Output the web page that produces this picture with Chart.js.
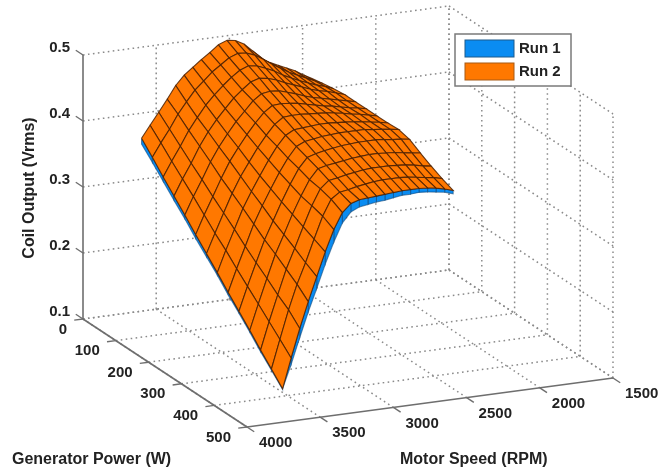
<!DOCTYPE html>
<html>
<head>
<meta charset="utf-8">
<title>Coil Output</title>
<script src="https://cdn.jsdelivr.net/npm/chart.js@4"></script>
<style>
html, body { margin: 0; padding: 0; background: #fff; }
canvas { display: block; filter: blur(0.55px); }
</style>
</head>
<body>
<canvas id="graph-coil" width="671" height="472"></canvas>
<script>
// tick labels
var speedTicks = [4000, 3500, 3000, 2500, 2000, 1500];
var powerTicks = [0, 100, 200, 300, 400, 500];
var coilTicks = [0.1, 0.2, 0.3, 0.4, 0.5];

// surface grid
var motorSpeed = [3600, 3542, 3483, 3425, 3367, 3309, 3250, 3192, 3134, 3076, 3017, 2959, 2901, 2843, 2784, 2726, 2668, 2610, 2552, 2493, 2435];
var generatorPower = [0, 33, 66, 99, 132, 165, 198, 231, 264, 297, 330, 363, 396, 430];

// Run 2: one row per generatorPower, one column per motorSpeed
var run2 = [
    [.362, .380, .398, .416, .435, .449, .459, .469, .478, .488, .493, .491, .484, .472, .459, .451, .445, .439, .433, .425, .418],
    [.344, .364, .383, .404, .421, .437, .449, .461, .470, .479, .484, .483, .478, .470, .461, .453, .445, .439, .433, .427, .421],
    [.325, .347, .368, .390, .408, .425, .439, .451, .462, .471, .476, .474, .469, .463, .455, .449, .443, .438, .433, .429, .424],
    [.307, .331, .353, .377, .397, .414, .429, .443, .454, .464, .468, .466, .462, .456, .451, .446, .441, .437, .434, .430, .426],
    [.289, .315, .339, .364, .385, .403, .420, .434, .448, .457, .459, .458, .454, .450, .445, .441, .438, .435, .432, .429, .426],
    [.270, .298, .324, .350, .374, .393, .411, .427, .441, .450, .451, .450, .448, .445, .442, .439, .437, .434, .431, .429, .426],
    [.252, .281, .310, .338, .362, .382, .402, .419, .434, .443, .444, .444, .443, .442, .441, .439, .437, .434, .432, .429, .426],
    [.234, .266, .296, .326, .350, .372, .394, .413, .428, .435, .436, .437, .438, .438, .437, .436, .435, .433, .431, .429, .426],
    [.215, .249, .281, .313, .339, .363, .386, .406, .422, .428, .430, .432, .433, .434, .434, .434, .434, .432, .431, .429, .427],
    [.197, .233, .267, .300, .327, .354, .379, .401, .416, .420, .423, .425, .427, .428, .429, .429, .429, .428, .426, .425, .423],
    [.179, .217, .254, .289, .317, .346, .372, .395, .410, .413, .415, .417, .419, .420, .421, .421, .420, .419, .417, .415, .413],
    [.160, .201, .240, .277, .307, .338, .368, .392, .403, .405, .408, .410, .412, .413, .413, .413, .412, .411, .409, .406, .404],
    [.142, .185, .228, .265, .296, .330, .363, .387, .396, .398, .401, .403, .405, .406, .406, .406, .405, .403, .401, .399, .396],
    [.123, .168, .211, .250, .286, .322, .354, .378, .390, .394, .395, .396, .397, .398, .399, .399, .399, .398, .396, .393, .389]
];

// Run 1 only shows below Run 2 along these two edges
var run1Front = [.353, .336, .318, .300, .283, .264, .247, .230, .211, .194, .176, .157, .140, .122];
var run1Edge = [.123, .158, .197, .234, .268, .303, .335, .362, .377, .383, .385, .387, .388, .390, .392, .392, .393, .392, .390, .388, .384];

var run1Color = "#0a8cf2";
var run2Color = "#ff7800";
var gridColor = "#8a8a8a";
var axisColor = "#6e6e6e";
var textColor = "#222";

// orthographic view of the box, in canvas pixels
function project(speed, power, coil) {
    return {
        x: 83 + power * 0.328 + (4000 - speed) * 0.1464,
        y: 319 + power * 0.216 - (4000 - speed) * 0.0196 - (coil - 0.1) * 660
    };
}

function lineSet(a, b, color, width, dash) {
    return {
        data: [project(a[0], a[1], a[2]), project(b[0], b[1], b[2])],
        showLine: true, fill: false, pointRadius: 0,
        borderColor: color, borderWidth: width, borderDash: dash || []
    };
}

function quadSet(points, fillColor, lineColor) {
    return {
        data: points.concat([points[0]]),
        showLine: true, fill: "shape", pointRadius: 0,
        backgroundColor: fillColor, borderColor: lineColor, borderWidth: 1.1
    };
}

var sets = [];   // in painting order, back to front
var dots = [1.6, 3.4];
var i, j;

// dotted box grid
for (i = 0; i < speedTicks.length; i++) {
    if (i > 0) {
        sets.push(lineSet([speedTicks[i], 0, 0.1], [speedTicks[i], 0, 0.5], gridColor, 1.5, dots));
    }
    sets.push(lineSet([speedTicks[i], 0, 0.1], [speedTicks[i], 500, 0.1], gridColor, 1.5, dots));
}
for (i = 0; i < powerTicks.length; i++) {
    sets.push(lineSet([1500, powerTicks[i], 0.1], [1500, powerTicks[i], 0.5], gridColor, 1.5, dots));
    if (i < powerTicks.length - 1) {
        sets.push(lineSet([4000, powerTicks[i], 0.1], [1500, powerTicks[i], 0.1], gridColor, 1.5, dots));
    }
}
for (i = 0; i < coilTicks.length; i++) {
    sets.push(lineSet([4000, 0, coilTicks[i]], [1500, 0, coilTicks[i]], gridColor, 1.5, dots));
    sets.push(lineSet([1500, 0, coilTicks[i]], [1500, 500, coilTicks[i]], gridColor, 1.5, dots));
}

// solid axes and their ticks
sets.push(lineSet([4000, 0, 0.1], [4000, 0, 0.5], axisColor, 1.6));
sets.push(lineSet([4000, 0, 0.1], [4000, 500, 0.1], axisColor, 1.6));
sets.push(lineSet([4000, 500, 0.1], [1500, 500, 0.1], axisColor, 1.6));
for (i = 0; i < coilTicks.length; i++) {
    sets.push(lineSet([4000, 0, coilTicks[i]], [4000, -22, coilTicks[i]], axisColor, 1.4));
}
for (i = 0; i < powerTicks.length; i++) {
    sets.push(lineSet([4000, powerTicks[i], 0.1], [4060, powerTicks[i], 0.1], axisColor, 1.4));
}
for (i = 0; i < speedTicks.length; i++) {
    sets.push(lineSet([speedTicks[i], 500, 0.1], [speedTicks[i], 522, 0.1], axisColor, 1.4));
}

// Run 1 edges
var lastP = generatorPower.length - 1;
var lastS = motorSpeed.length - 1;
for (i = 0; i < lastP; i++) {
    sets.push(quadSet([
        project(motorSpeed[0], generatorPower[i], run2[i][0]),
        project(motorSpeed[0], generatorPower[i + 1], run2[i + 1][0]),
        project(motorSpeed[0], generatorPower[i + 1], run1Front[i + 1]),
        project(motorSpeed[0], generatorPower[i], run1Front[i])
    ], run1Color, "rgba(15,70,120,0.6)"));
}
for (j = lastS - 1; j >= 0; j--) {
    sets.push(quadSet([
        project(motorSpeed[j], generatorPower[lastP], run2[lastP][j]),
        project(motorSpeed[j + 1], generatorPower[lastP], run2[lastP][j + 1]),
        project(motorSpeed[j + 1], generatorPower[lastP], run1Edge[j + 1]),
        project(motorSpeed[j], generatorPower[lastP], run1Edge[j])
    ], run1Color, "rgba(15,70,120,0.6)"));
}

// Run 2 surface, far cells first
for (i = 0; i < lastP; i++) {
    for (j = lastS - 1; j >= 0; j--) {
        sets.push(quadSet([
            project(motorSpeed[j], generatorPower[i], run2[i][j]),
            project(motorSpeed[j + 1], generatorPower[i], run2[i][j + 1]),
            project(motorSpeed[j + 1], generatorPower[i + 1], run2[i + 1][j + 1]),
            project(motorSpeed[j], generatorPower[i + 1], run2[i + 1][j])
        ], run2Color, "rgba(75,32,0,0.85)"));
    }
}

// Chart.js paints the last dataset first
sets.reverse();

function drawText(ctx, text, x, y, align) {
    ctx.textAlign = align;
    ctx.fillText(text, x, y);
}

var labelPlugin = {
    id: "labelPlugin",
    afterDraw: function (chart) {
        var ctx = chart.ctx;
        var xs = chart.scales.x, ys = chart.scales.y;
        var i, pt;

        function at(speed, power, coil) {
            pt = project(speed, power, coil);
            return { x: xs.getPixelForValue(pt.x), y: ys.getPixelForValue(pt.y) };
        }

        ctx.save();
        ctx.fillStyle = textColor;
        ctx.textBaseline = "middle";
        ctx.font = "bold 15px 'Liberation Sans', Arial, sans-serif";

        for (i = 0; i < coilTicks.length; i++) {
            pt = at(4000, 0, coilTicks[i]);
            drawText(ctx, coilTicks[i].toFixed(1), pt.x - 13, pt.y - 7, "right");
        }
        for (i = 0; i < powerTicks.length; i++) {
            pt = at(4000, powerTicks[i], 0.1);
            drawText(ctx, String(powerTicks[i]), pt.x - 16, pt.y + 10.5, "right");
        }
        for (i = 0; i < speedTicks.length; i++) {
            pt = at(speedTicks[i], 500, 0.1);
            drawText(ctx, String(speedTicks[i]), pt.x + 12, pt.y + 16, "left");
        }

        ctx.font = "bold 16px 'Liberation Sans', Arial, sans-serif";
        drawText(ctx, "Generator Power (W)", 12, 460, "left");
        drawText(ctx, "Motor Speed (RPM)", 400, 460, "left");
        ctx.save();
        ctx.translate(30, 188);
        ctx.rotate(-Math.PI / 2);
        drawText(ctx, "Coil Output (Vrms)", 0, 0, "center");
        ctx.restore();

        // legend
        ctx.fillStyle = "#fff";
        ctx.strokeStyle = "#7a7a7a";
        ctx.lineWidth = 1.5;
        ctx.fillRect(455, 34, 116, 52);
        ctx.strokeRect(455, 34, 116, 52);
        ctx.lineWidth = 1;
        ctx.fillStyle = run1Color;
        ctx.strokeStyle = "#1c5a8c";
        ctx.fillRect(465, 40, 49, 17);
        ctx.strokeRect(465, 40, 49, 17);
        ctx.fillStyle = run2Color;
        ctx.strokeStyle = "#a85a14";
        ctx.fillRect(465, 63, 49, 17);
        ctx.strokeRect(465, 63, 49, 17);
        ctx.fillStyle = textColor;
        ctx.font = "bold 15px 'Liberation Sans', Arial, sans-serif";
        drawText(ctx, "Run 1", 519, 48.5, "left");
        drawText(ctx, "Run 2", 519, 71.5, "left");
        ctx.restore();
    }
};

new Chart("graph-coil", {
    type: "scatter",
    data: { datasets: sets },
    options: {
        responsive: false,
        animation: false,
        events: [],
        layout: { padding: 0 },
        elements: { line: { tension: 0 } },
        plugins: { legend: { display: false }, tooltip: { enabled: false } },
        scales: {
            x: { type: "linear", min: 0, max: 671, display: false },
            y: { type: "linear", min: 0, max: 472, reverse: true, display: false }
        }
    },
    plugins: [labelPlugin]
});
</script>
</body>
</html>
